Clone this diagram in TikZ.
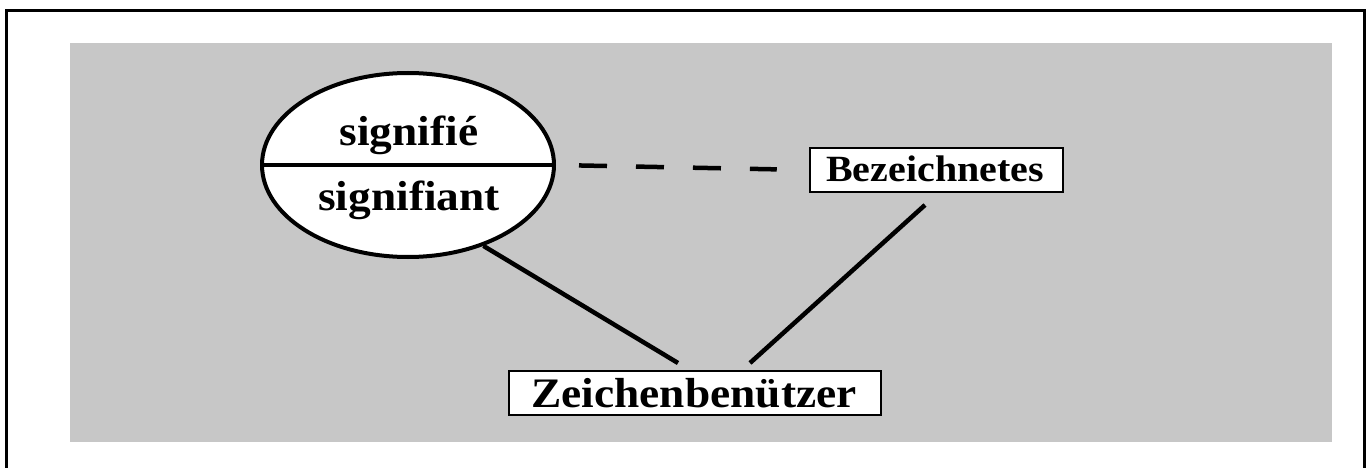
\documentclass[tikz,border=0pt]{standalone}
\usepackage{fontspec}
\setmainfont{Liberation Serif}
\newfontfamily\lblfont{Liberation Serif}[FakeStretch=1.08]
\usetikzlibrary{shapes.geometric}
\begin{document}
\begin{tikzpicture}[x=1pt,y=-1pt,
  lbl/.style={font=\lblfont\bfseries\fontsize{42}{46}\selectfont, inner sep=0pt},
  lblsmall/.style={font=\lblfont\bfseries\fontsize{37}{40}\selectfont, inner sep=0pt},
  boxnode/.style={draw, line width=2.5pt, fill=white, inner sep=0pt},
  conn/.style={line width=4.5pt}]
\useasboundingbox (0,0) rectangle (1371,468);
\fill[black!22] (70,43) rectangle (1332,442);
\draw[line width=3pt] (6,472) -- (6,11) -- (1364,11) -- (1364,472);
\node[ellipse, draw, line width=4pt, fill=white, minimum width=292pt, minimum height=184pt] (ell) at (408,165) {};
\draw[line width=3.5pt] (ell.west) -- (ell.east);
\node[lbl, anchor=base] (sd) at (409,146) {signifié};
\node[lbl, anchor=base] (sa) at (409,211) {signifiant};
\node[boxnode, minimum width=253pt, minimum height=44pt] (bez) at (936.5,170) {};
\node[lblsmall, anchor=base] (bezt) at (935,182) {Bezeichnetes};
\node[boxnode, minimum width=372pt, minimum height=44pt] (zb) at (695,393) {};
\node[lbl, anchor=base] (zbt) at (694,407) {Zeichenbenützer};
\coordinate (zl) at (678,363);
\coordinate (zr) at (750,363);
\coordinate (br) at (925,205);
\draw[line width=4.5pt, dash pattern=on 28pt off 29pt, shorten <=23pt, shorten >=32pt] (ell.east) -- (bez.west);
\draw[conn] (ell.-47.5) -- (zl);
\draw[conn] (br) -- (zr);
\end{tikzpicture}
\end{document}
